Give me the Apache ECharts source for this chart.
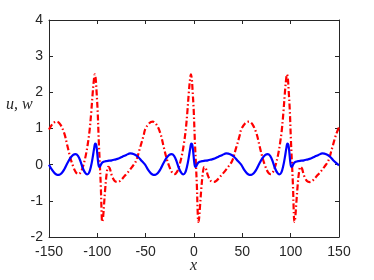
<!DOCTYPE html>
<html>
<head>
<meta charset="utf-8">
<script src="https://cdn.jsdelivr.net/npm/echarts@6/dist/echarts.min.js"></script>
<style>html,body{margin:0;padding:0;background:#fff}#c{width:374px;height:280px}</style>
</head>
<body>
<div id="c"></div>
<script>
// x ticks and y ticks
const xTicks = [-150, -100, -50, 0, 50, 100, 150];
const yTicks = [-2, -1, 0, 1, 2, 3, 4];

// w (red dash-dot)
const wX = [-150, -146, -142, -138, -134, -131, -128, -125, -122, -119.5, -117, -114.5, -112, -110, -108, -106.3, -104.8, -103.5, -102.6, -101.7, -100.8, -99.7, -98.5, -97.4, -96.4, -95.6, -95, -94.2, -93.1, -91.8, -90.3, -88.8, -87.2, -85, -82, -79, -76, -72, -68, -64, -60, -56, -52,
  -50.6, -46.6, -42.6, -38.6, -34.6, -31.6, -28.6, -25.6, -22.6, -20.1, -17.6, -15.1, -12.6, -10.6, -8.6, -6.9, -5.4, -4.1, -3.2, -2.3, -1.4, -0.3, 0.9, 2.0, 3.0, 3.8, 4.4, 5.2, 6.3, 7.6, 9.1, 10.6, 12.2, 14.4, 17.4, 20.4, 23.4, 27.4, 31.4, 35.4, 39.4, 43.4, 47.4,
  48.8, 52.8, 56.8, 60.8, 64.8, 67.8, 70.8, 73.8, 76.8, 79.3, 81.8, 84.3, 86.8, 88.8, 90.8, 92.5, 94.0, 95.3, 96.2, 97.1, 98.0, 99.1, 100.3, 101.4, 102.4, 103.2, 103.8, 104.6, 105.7, 107.0, 108.5, 110.0, 111.6, 113.8, 116.8, 119.8, 122.8, 126.8, 130.8, 134.8, 138.8, 142.8, 146.8, 150];
const wY = [0.97, 1.14, 1.19, 1.1, 0.85, 0.52, 0.2, -0.05, -0.22, -0.26, -0.2, -0.02, 0.25, 0.55, 0.95, 1.45, 1.98, 2.36, 2.5, 2.38, 2.02, 1.5, 0.65, 0.0, -0.6, -1.3, -1.58, -1.5, -1.12, -0.65, -0.24, -0.06, -0.1, -0.3, -0.45, -0.48, -0.44, -0.32, -0.2, -0.06, 0.1, 0.45, 0.82,
  0.97, 1.14, 1.19, 1.1, 0.85, 0.52, 0.2, -0.05, -0.22, -0.26, -0.2, -0.02, 0.25, 0.55, 0.95, 1.45, 1.98, 2.36, 2.5, 2.38, 2.02, 1.5, 0.65, 0.0, -0.6, -1.3, -1.58, -1.5, -1.12, -0.65, -0.24, -0.06, -0.1, -0.3, -0.45, -0.48, -0.44, -0.32, -0.2, -0.06, 0.1, 0.45, 0.82,
  0.97, 1.14, 1.19, 1.1, 0.85, 0.52, 0.2, -0.05, -0.22, -0.26, -0.2, -0.02, 0.25, 0.55, 0.95, 1.45, 1.98, 2.36, 2.5, 2.38, 2.02, 1.5, 0.65, 0.0, -0.6, -1.3, -1.58, -1.5, -1.12, -0.65, -0.24, -0.06, -0.1, -0.3, -0.45, -0.48, -0.44, -0.32, -0.2, -0.06, 0.1, 0.45, 0.82, 1.03];

// u (blue solid)
const uX = [-150, -147, -144, -141.5, -139.5, -137, -134, -131, -128, -125, -122.5, -120, -117.5, -115, -112.5, -110.5, -108.5, -106.5, -104.8, -103.3, -102.2, -101.2, -100.2, -99.2, -98.2, -97, -95.5, -93.5, -91, -88, -85, -82, -78, -74, -70, -66, -62, -58, -54,
  -50.6, -47.6, -44.6, -42.1, -40.1, -37.6, -34.6, -31.6, -28.6, -25.6, -23.1, -20.6, -18.1, -15.6, -13.1, -11.1, -9.1, -7.1, -5.4, -3.9, -2.8, -1.8, -0.8, 0.2, 1.2, 2.4, 3.9, 5.9, 8.4, 11.4, 14.4, 17.4, 21.4, 25.4, 29.4, 33.4, 37.4, 41.4, 45.4,
  48.8, 51.8, 54.8, 57.3, 59.3, 61.8, 64.8, 67.8, 70.8, 73.8, 76.3, 78.8, 81.3, 83.8, 86.3, 88.3, 90.3, 92.3, 94.0, 95.5, 96.6, 97.6, 98.6, 99.6, 100.6, 101.8, 103.3, 105.3, 107.8, 110.8, 113.8, 116.8, 120.8, 124.8, 128.8, 132.8, 136.8, 140.8, 144.8, 150];
const uY = [0.0, -0.14, -0.24, -0.28, -0.28, -0.24, -0.12, 0.04, 0.18, 0.27, 0.29, 0.24, 0.1, -0.1, -0.23, -0.27, -0.22, -0.04, 0.2, 0.45, 0.58, 0.55, 0.35, 0.08, -0.06, -0.04, 0.04, 0.08, 0.1, 0.11, 0.12, 0.14, 0.17, 0.22, 0.27, 0.31, 0.29, 0.22, 0.1,
  0.0, -0.14, -0.24, -0.28, -0.28, -0.24, -0.12, 0.04, 0.18, 0.27, 0.29, 0.24, 0.1, -0.1, -0.23, -0.27, -0.22, -0.04, 0.2, 0.45, 0.58, 0.55, 0.35, 0.08, -0.06, -0.04, 0.04, 0.08, 0.1, 0.11, 0.12, 0.14, 0.17, 0.22, 0.27, 0.31, 0.29, 0.22, 0.1,
  0.0, -0.14, -0.24, -0.28, -0.28, -0.24, -0.12, 0.04, 0.18, 0.27, 0.29, 0.24, 0.1, -0.1, -0.23, -0.27, -0.22, -0.04, 0.2, 0.45, 0.58, 0.55, 0.35, 0.08, -0.06, -0.04, 0.04, 0.08, 0.1, 0.11, 0.12, 0.14, 0.17, 0.22, 0.27, 0.31, 0.29, 0.22, 0.1, -0.02];

const pair = (xs, ys) => xs.map((x, i) => [x, ys[i]]);
const axisColor = '#262626';
const labelFont = { color: '#262626', fontSize: 14, fontFamily: 'Liberation Sans, Arial, sans-serif' };

const chart = echarts.init(document.getElementById('c'), null, { renderer: 'canvas' });
const xBase = {
  type: 'value', min: xTicks[0], max: xTicks[xTicks.length - 1], interval: 50,
  axisLine: { show: true, onZero: false, lineStyle: { color: axisColor, width: 1 } },
  axisTick: { show: true, inside: true, length: 4, lineStyle: { color: axisColor } },
  splitLine: { show: false }
};
const yBase = {
  type: 'value', min: yTicks[0], max: yTicks[yTicks.length - 1], interval: 1,
  axisLine: { show: true, onZero: false, lineStyle: { color: axisColor, width: 1 } },
  axisTick: { show: true, inside: true, length: 4, lineStyle: { color: axisColor } },
  splitLine: { show: false }
};
chart.setOption({
  animation: false,
  grid: { left: 49, right: 35, top: 20, bottom: 43, containLabel: false },
  xAxis: [
    Object.assign({}, xBase, { position: 'bottom', axisLabel: Object.assign({ margin: 8 }, labelFont) }),
    Object.assign({}, xBase, { position: 'top', axisLabel: { show: false } })
  ],
  yAxis: [
    Object.assign({}, yBase, { position: 'left', axisLabel: Object.assign({ margin: 6 }, labelFont) }),
    Object.assign({}, yBase, { position: 'right', axisLabel: { show: false } })
  ],
  graphic: [
    { type: 'text', left: 190, top: 258, style: { text: 'x', font: 'italic 16px "Liberation Serif", serif', fill: '#262626' } },
    { type: 'text', left: 6, top: 97, style: { text: 'u, w', font: 'italic 16px "Liberation Serif", serif', fill: '#262626' } }
  ],
  series: [
    {
      type: 'line', data: pair(wX, wY), showSymbol: false, smooth: 0.35, z: 2,
      lineStyle: { color: '#ff0000', width: 2.2, type: [6, 2.5, 1.5, 2.5] }
    },
    {
      type: 'line', data: pair(uX, uY), showSymbol: false, smooth: 0.35, z: 3,
      lineStyle: { color: '#0000ff', width: 2.2, type: 'solid' }
    }
  ]
});
</script>
</body>
</html>
